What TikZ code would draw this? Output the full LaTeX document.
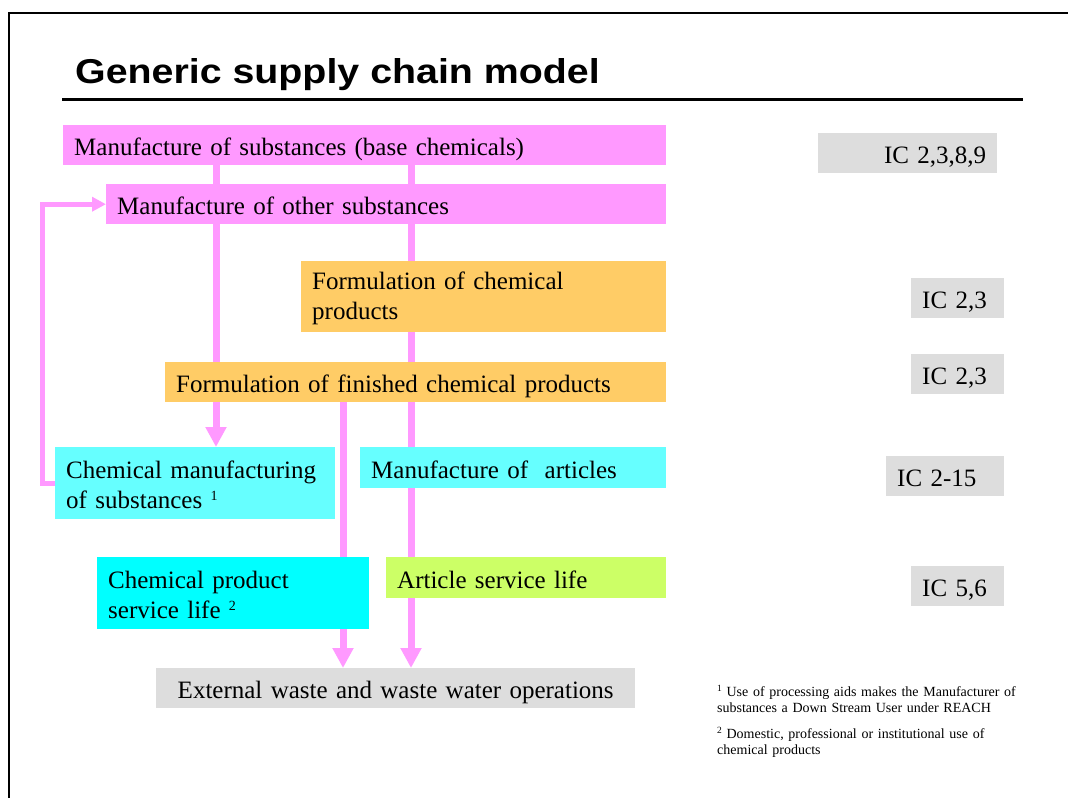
\documentclass[tikz,border=0pt]{standalone}
\usepackage{fontspec}
\setmainfont{Liberation Serif}
\newfontfamily\titlefont[FakeStretch=1.14]{Liberation Sans}
\usetikzlibrary{arrows.meta,backgrounds}

\definecolor{flowpink}{HTML}{FF99FF}
\definecolor{subpink}{HTML}{FF99FF}
\definecolor{formorange}{HTML}{FFCC66}
\definecolor{usecyan}{HTML}{66FFFF}
\definecolor{lifecyan}{HTML}{00FFFF}
\definecolor{artlime}{HTML}{CCFF66}
\definecolor{icgray}{HTML}{DDDDDD}

% small raised note numbers
\newcommand{\boxnote}[1]{\raisebox{8pt}{\fontsize{14}{14}\selectfont #1}}
\newcommand{\footnum}[1]{\raisebox{4.5pt}{\fontsize{9.5}{9.5}\selectfont #1}}

\tikzset{
  stage/.style={anchor=north west, inner xsep=11pt, inner ysep=0pt, align=left,
    font=\fontsize{25}{30}\selectfont, text height=21pt},
  single/.style={stage, text depth=0pt, minimum height=40pt},
  double/.style={stage, minimum height=#1},
  footnote/.style={anchor=base west, inner sep=0pt, align=left, text width=320pt,
    font=\fontsize{14}{16.8}\selectfont},
  flow/.style={draw=flowpink, line width=7pt, -{Triangle[length=20pt,width=20pt]}},
  backflow/.style={draw=flowpink, line width=5pt, -{Triangle[length=14pt,width=14pt]}}
}

\begin{document}
\begin{tikzpicture}[x=1pt, y=-1pt]

  \useasboundingbox (0,0) rectangle (1068,798);

  \draw [line width=2pt] (1068,13) -- (9,13) -- (9,798);

  \node [anchor=base west, inner sep=0pt, font=\titlefont\bfseries\fontsize{34.5}{40}\selectfont] (title) at (75,83) {Generic supply chain model};
  \draw [line width=3pt] (62,99) -- (1023,99);

  % substances
  \node [single, fill=subpink, text width=581pt] (ms) at (63,125) {Manufacture of substances (base chemicals)};
  \node [single, fill=subpink, text width=538pt] (mo) at (106,184) {Manufacture of other substances};

  % formulation
  \node [double=71pt, fill=formorange, text width=343pt] (fc) at (301,261) {Formulation of chemical\\ products};
  \node [single, fill=formorange, text width=479pt] (ff) at (165,362) {Formulation of finished chemical products};

  % use
  \node [double=72pt, fill=usecyan, text width=258pt] (cm) at (55,447) {Chemical manufacturing\\ of substances \boxnote{1}};
  \node [single, fill=usecyan, text width=284pt, minimum height=41pt] (ma) at (360,447) {Manufacture of~ articles};

  % service life
  \node [double=72pt, fill=lifecyan, text width=250pt] (cp) at (97,557) {Chemical product\\ service life \boxnote{2}};
  \node [single, fill=artlime, text width=258pt, minimum height=41pt] (as) at (386,557) {Article service life};

  \node [single, fill=icgray, text width=457pt, align=center] (waste) at (156,668) {External waste and waste water operations};

  % industry categories
  \node [single, fill=icgray, text width=157pt, align=right] (ic1) at (818,133) {IC 2,3,8,9};
  \node [single, fill=icgray, text width=71pt] (ic2) at (911,278) {IC 2,3};
  \node [single, fill=icgray, text width=71pt] (ic3) at (911,354) {IC 2,3};
  \node [single, fill=icgray, text width=96pt] (ic4) at (886,456) {IC 2-15};
  \node [single, fill=icgray, text width=71pt] (ic5) at (911,566) {IC 5,6};

  \node [footnote] (fn1) at (717,696)
    {\footnum{1} Use of processing aids makes the Manufacturer of\\ substances a Down Stream User under REACH};
  \node [footnote] (fn2) at (717,738)
    {\footnum{2} Domestic, professional or institutional use of\\ chemical products};

  \coordinate (col1) at (216,0);
  \coordinate (col2) at (343,0);
  \coordinate (col3) at (411,0);

  \begin{pgfonlayer}{background}
    \draw [flow] (ms.south -| col1) -- (cm.north -| col1);
    \draw [flow] (ms.south -| col3) -- (waste.north -| col3);
    \draw [flow] (ff.south -| col2) -- (waste.north -| col2);
    \draw [backflow] (cm.west) -- ++(-12.5,0) |- (mo.west);
  \end{pgfonlayer}

\end{tikzpicture}
\end{document}
